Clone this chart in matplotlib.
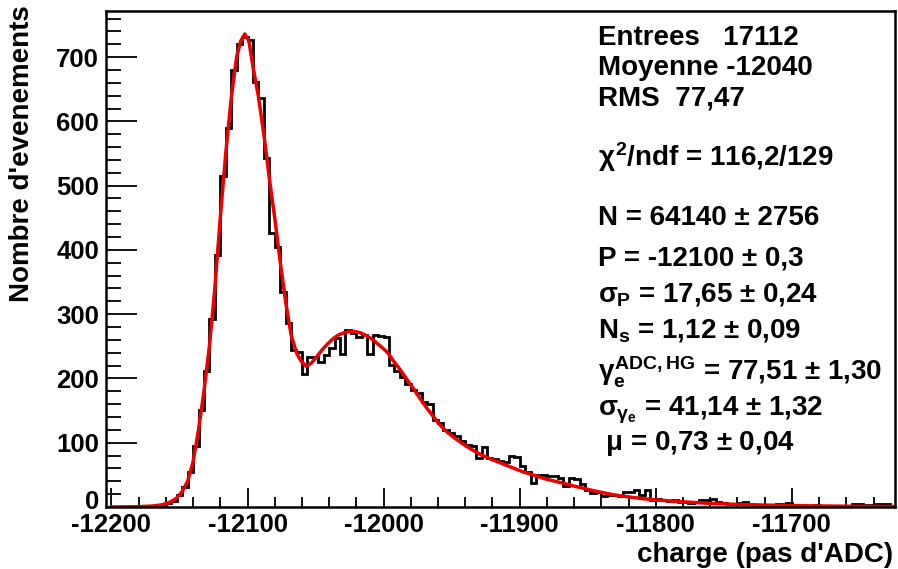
import numpy as np
import matplotlib
matplotlib.use('Agg')
import matplotlib.pyplot as plt
from matplotlib.ticker import MultipleLocator
from matplotlib import transforms

plt.rcParams['font.family'] = ['Liberation Sans', 'DejaVu Sans']
plt.rcParams['font.weight'] = 'bold'
plt.rcParams['axes.unicode_minus'] = False
plt.rcParams['mathtext.fontset'] = 'custom'
plt.rcParams['mathtext.rm'] = 'Liberation Sans:bold'
plt.rcParams['mathtext.it'] = 'Liberation Sans'
plt.rcParams['mathtext.bf'] = 'Liberation Sans:bold'

# histogram: 4 ADC-count bins starting at -12204
bin_lo = -12204
bin_width = 4
counts = [
    0, 0, 0, 0, 0, 0, 1, 0, 1, 2,                  # -12204 .. -12168
    2, 6, 10, 18, 31, 54, 95, 151, 212, 292,       # -12164 .. -12128
    392, 515, 590, 680, 720, 731, 726, 662, 637, 543,   # -12124 .. -12088
    426, 405, 335, 286, 245, 241, 207, 234, 234, 226,   # -12084 .. -12048
    237, 247, 263, 238, 275, 270, 265, 268, 238, 268,   # -12044 .. -12008
    266, 265, 221, 211, 203, 192, 182, 177, 163, 161,   # -12004 .. -11968
    135, 130, 120, 115, 110, 102, 96, 95, 76, 93,       # -11964 .. -11928
    76, 74, 71, 70, 79, 78, 63, 55, 37, 50,             # -11924 .. -11888
    50, 48, 48, 45, 33, 45, 43, 36, 26, 22,             # -11884 .. -11848
    24, 17, 19, 19, 17, 24, 24, 27, 19, 27,             # -11844 .. -11808
    11, 12, 11, 10, 11, 7, 7, 6, 8, 11,                 # -11804 .. -11768
    11, 12, 7, 6, 5, 5, 6, 7, 4, 3,                     # -11764 .. -11728
    3, 3, 3, 5, 5, 6, 3, 3, 2, 2,                       # -11724 .. -11688
    3, 2, 2, 2, 1, 2, 1, 5, 5, 3,                       # -11684 .. -11648
    3, 4, 4, 4, 2,                                      # -11644 .. -11628
]

# fitted curve
fit_x = [-12200, -12190, -12180, -12170, -12164, -12160, -12156, -12152, -12148, -12144,
         -12140, -12136, -12132, -12128, -12124, -12120, -12116, -12112, -12108, -12105,
         -12102, -12099, -12096, -12092, -12088, -12084, -12080, -12076, -12072, -12068,
         -12064, -12061, -12057, -12053, -12049, -12045, -12041, -12037, -12033, -12029,
         -12025, -12021, -12017, -12013, -12009, -12005, -12001, -11997, -11993, -11989,
         -11985, -11981, -11977, -11973, -11969, -11965, -11961, -11957, -11953, -11947,
         -11941, -11935, -11929, -11923, -11917, -11910, -11904, -11898, -11892, -11886,
         -11880, -11874, -11868, -11861, -11855, -11849, -11843, -11837, -11831, -11825,
         -11819, -11810, -11800, -11790, -11780, -11770, -11760, -11750, -11740, -11720,
         -11700, -11680, -11660, -11640, -11624]
fit_y = [0, 0.2, 0.5, 1.5, 3, 5, 8.5, 14, 24, 40,
         70, 120, 180, 250, 340, 450, 550, 635, 700, 725,
         736, 725, 685, 639, 580, 512, 450, 382, 320, 268,
         240, 228, 219, 224, 234, 245, 254, 262, 268, 271,
         273, 273, 271, 267, 262, 255, 248, 240, 228, 217,
         205, 193, 181, 168, 156, 145, 134, 124, 116, 106,
         97, 89, 82, 76, 71, 65, 60, 55, 51, 47,
         43, 40, 37, 33, 30, 27, 24, 21.5, 19, 17,
         15.5, 13, 11, 9.5, 8, 6.8, 5.6, 4.7, 4, 3,
         2.2, 1.6, 1.2, 0.9, 0.7]

stats_lines = ['Entrees   17112', 'Moyenne -12040', 'RMS  77,47']
chi2_line = r'$\chi^{2}$/ndf = 116,2/129'
param_lines = [
    'N = 64140 ± 2756',
    'P = -12100 ± 0,3',
    r'$\sigma_{\mathrm{P}}$ = 17,65 ± 0,24',
    r'N$_{\mathrm{s}}$ = 1,12 ± 0,09',
    r'$\gamma_{\mathrm{e}}^{\mathrm{ADC,HG}}$ = 77,51 ± 1,30',
    r'$\sigma_{\gamma_{\mathrm{e}}}$ = 41,14 ± 1,32',
    r' $\mu$ = 0,73 ± 0,04',
]

edges = bin_lo + bin_width * np.arange(len(counts) + 1)

fig = plt.figure(figsize=(8.98, 5.69), dpi=100)
ax = fig.add_axes([0.118, 0.109, 0.879, 0.872])

ax.stairs(counts, edges, color='black', lw=2)
ax.plot(fit_x, fit_y, color='#ee0000', lw=2.5)

ax.set_xlim(edges[0], edges[-1])
ax.set_ylim(0, 772)

ax.xaxis.set_major_locator(MultipleLocator(100))
ax.xaxis.set_minor_locator(MultipleLocator(20))
ax.yaxis.set_major_locator(MultipleLocator(100))
ax.yaxis.set_minor_locator(MultipleLocator(20))
ax.tick_params(which='both', direction='in', top=False, right=False, labelsize=18.5)
ax.tick_params(axis='y', which='major', length=22, width=1.3, pad=5)
ax.tick_params(axis='y', which='minor', length=11, width=1.3)
ax.tick_params(axis='x', which='major', length=14, width=1.3, pad=4)
ax.tick_params(axis='x', which='minor', length=7, width=1.3)
for s in ax.spines.values():
    s.set_linewidth(1.8)

# lift the "0" label a little, as ROOT does, so it clears the x labels
fig.canvas.draw()
for lab in ax.get_yticklabels():
    if lab.get_text() == '0':
        lab.set_transform(lab.get_transform() + transforms.ScaledTranslation(0, 7 / 100, fig.dpi_scale_trans))

fig.text(0.0245, 0.991, "Nombre d'evenements", rotation=90, ha='center', va='top', fontsize=20)
fig.text(0.995, 1 - 555 / 569, "charge (pas d'ADC)", ha='right', va='center', fontsize=20)

tx = 598 / 898
for i, s in enumerate(stats_lines):
    fig.text(tx, 1 - (38 + 30 * i) / 569, s, va='center', fontsize=20)
fig.text(tx, 1 - 157 / 569, chi2_line, va='center', fontsize=20)
param_y = [218, 259, 295, 331, 372, 410, 444]
for s, y in zip(param_lines, param_y):
    fig.text(tx, 1 - y / 569, s, va='center', fontsize=20)

fig.savefig('out.png', dpi=100)
